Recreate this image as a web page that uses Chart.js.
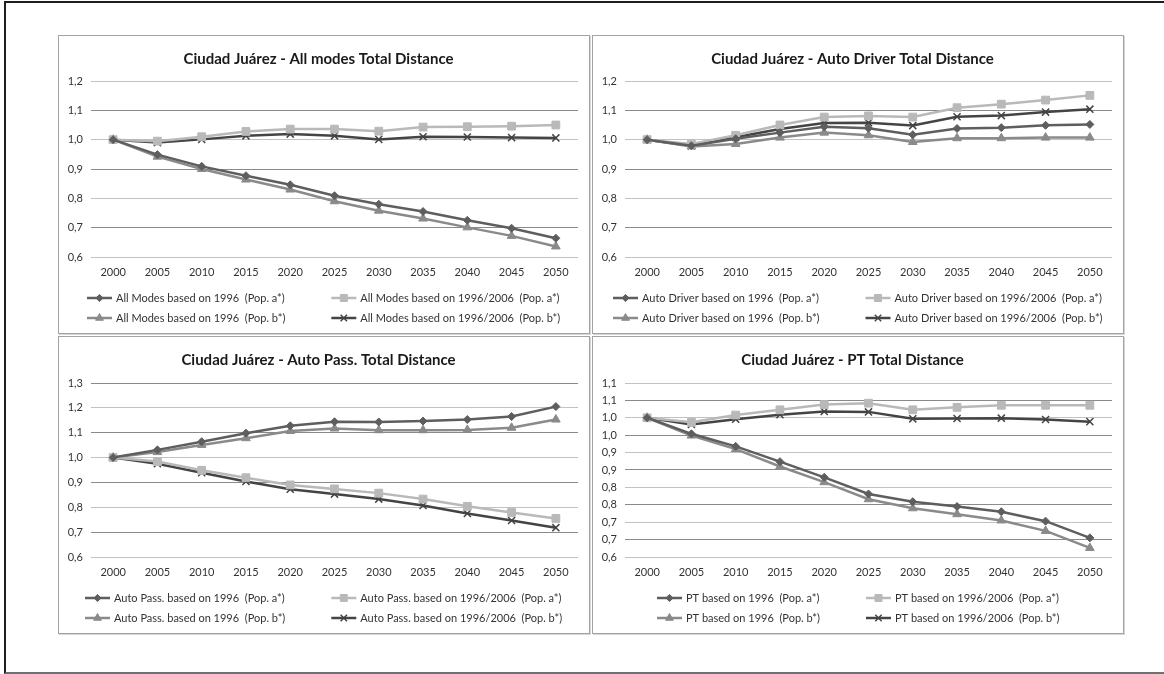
<!DOCTYPE html>
<html>
<head>
<meta charset="utf-8">
<script src="https://cdn.jsdelivr.net/npm/chart.js@4.4.1/dist/chart.umd.min.js"></script>
<style>
html, body { margin: 0; padding: 0; background: #fff; width: 1164px; height: 674px; overflow: hidden; }
#frame { position: absolute; left: 4px; top: 1px; width: 1200px; height: 669px;
  border-left: 2px solid #1e1e1e; border-top: 2px solid #1e1e1e; border-bottom: 2px solid #707070; }
.panel { position: absolute; border: 1px solid #a3a3a3; box-shadow: 1px 1px 0 #d6d6d6; background: #fff; }
.panel canvas { position: absolute; left: 0; top: 0; }
</style>
</head>
<body>
<div id="frame"></div>
<div class="panel" style="left:58px;top:35px;width:530px;height:297px"><canvas id="c1" width="530" height="297"></canvas></div>
<div class="panel" style="left:592px;top:35px;width:530px;height:297px"><canvas id="c2" width="530" height="297"></canvas></div>
<div class="panel" style="left:58px;top:336px;width:530px;height:296px"><canvas id="c3" width="530" height="296"></canvas></div>
<div class="panel" style="left:592px;top:336px;width:530px;height:296px"><canvas id="c4" width="530" height="296"></canvas></div>

<script>
// Données
const years = ['2000', '2005', '2010', '2015', '2020', '2025', '2030', '2035', '2040', '2045', '2050'];

const allA96   = [1.000, 0.949, 0.909, 0.877, 0.846, 0.809, 0.780, 0.755, 0.725, 0.698, 0.664];
const allA9606 = [1.000, 0.995, 1.010, 1.028, 1.036, 1.036, 1.029, 1.043, 1.044, 1.046, 1.050];
const allB96   = [1.000, 0.942, 0.900, 0.864, 0.830, 0.790, 0.758, 0.731, 0.701, 0.672, 0.636];
const allB9606 = [1.000, 0.990, 1.001, 1.013, 1.019, 1.013, 1.001, 1.010, 1.009, 1.007, 1.006];

const drvA96   = [1.000, 0.979, 1.003, 1.024, 1.044, 1.039, 1.017, 1.038, 1.041, 1.049, 1.052];
const drvA9606 = [1.000, 0.985, 1.015, 1.050, 1.077, 1.081, 1.077, 1.109, 1.121, 1.135, 1.151];
const drvB96   = [1.000, 0.977, 0.985, 1.007, 1.024, 1.015, 0.992, 1.005, 1.005, 1.007, 1.007];
const drvB9606 = [1.000, 0.979, 1.008, 1.036, 1.057, 1.058, 1.048, 1.078, 1.082, 1.094, 1.104];

const pasA96   = [1.000, 1.031, 1.064, 1.098, 1.128, 1.144, 1.143, 1.147, 1.153, 1.165, 1.205];
const pasA9606 = [1.000, 0.984, 0.949, 0.919, 0.890, 0.874, 0.857, 0.833, 0.804, 0.779, 0.755];
const pasB96   = [1.000, 1.022, 1.051, 1.078, 1.107, 1.117, 1.110, 1.110, 1.111, 1.120, 1.153];
const pasB9606 = [1.000, 0.975, 0.939, 0.904, 0.873, 0.853, 0.833, 0.807, 0.775, 0.747, 0.718];

const ptA96    = [1.000, 0.954, 0.918, 0.874, 0.829, 0.781, 0.759, 0.745, 0.730, 0.703, 0.655];
const ptA9606  = [1.000, 0.987, 1.008, 1.023, 1.038, 1.042, 1.023, 1.030, 1.036, 1.036, 1.036];
const ptB96    = [1.000, 0.949, 0.910, 0.860, 0.815, 0.766, 0.740, 0.723, 0.705, 0.675, 0.626];
const ptB9606  = [1.000, 0.981, 0.996, 1.009, 1.018, 1.017, 0.997, 0.998, 0.999, 0.995, 0.989];

// Étiquettes de l'axe Y (du bas vers le haut)
const ticksTo12 = ['0,6', '0,7', '0,8', '0,9', '1,0', '1,1', '1,2'];
const ticksTo13 = ['0,6', '0,7', '0,8', '0,9', '1,0', '1,1', '1,2', '1,3'];
const ticksPT   = ['0,6', '0,7', '0,7', '0,8', '0,8', '0,9', '0,9', '1,0', '1,0', '1,1', '1,1'];

Chart.defaults.font.family = 'Lato, "Open Sans", sans-serif';
Chart.defaults.animation = false;

// Styles des 4 séries
const seriesStyles = [
    { color: '#5e5e5e', point: 'rectRot', radius: 4,   pbw: 1 },   // 1996 (Pop. a*)
    { color: '#b9b9b9', point: 'rect',    radius: 5.5, pbw: 1 },   // 1996/2006 (Pop. a*)
    { color: '#8a8a8a', point: 'triangle',radius: 5,   pbw: 1 },   // 1996 (Pop. b*)
    { color: '#444444', point: 'crossRot',radius: 5,   pbw: 1.5 }  // 1996/2006 (Pop. b*)
];

// Légende en 2 colonnes dessinée sous le graphique
const legendGrid = {
    id: 'legendGrid',
    afterDraw(chart) {
        const ctx = chart.ctx;
        const ds = chart.data.datasets;
        ctx.save();
        ctx.font = '11px Lato, "Open Sans", sans-serif';
        const symW = 25, gap = 4, colGap = 46;
        const w1 = Math.max(ctx.measureText(ds[0].label).width, ctx.measureText(ds[2].label).width);
        const w2 = Math.max(ctx.measureText(ds[1].label).width, ctx.measureText(ds[3].label).width);
        const total = symW + gap + w1 + colGap + symW + gap + w2;
        const x0 = Math.round((chart.width - total) / 2);
        const xs = [x0, x0 + symW + gap + w1 + colGap];
        const ys = [chart.chartArea.bottom + 41, chart.chartArea.bottom + 61];
        ds.forEach((d, i) => {
            const x = xs[i % 2], y = ys[Math.floor(i / 2)];
            ctx.strokeStyle = d.borderColor;
            ctx.lineWidth = d.borderWidth;
            ctx.beginPath();
            ctx.moveTo(x, y);
            ctx.lineTo(x + symW, y);
            ctx.stroke();
            ctx.fillStyle = d.borderColor;
            ctx.lineWidth = d.pointBorderWidth;
            Chart.helpers.drawPoint(ctx, {
                pointStyle: d.pointStyle, radius: d.pointRadius * 0.9,
                borderWidth: d.pointBorderWidth, rotation: 0
            }, x + symW / 2, y);
            ctx.fillStyle = '#333';
            ctx.textBaseline = 'middle';
            ctx.textAlign = 'left';
            ctx.fillText(d.label, x + symW + gap, y);
        });
        ctx.restore();
    }
};

function makeChart(id, title, prefix, series, yMin, yMax, step, tickLabels, titleBottom) {
    const suffixes = ['based on 1996  (Pop. a*)', 'based on 1996/2006  (Pop. a*)',
                      'based on 1996  (Pop. b*)', 'based on 1996/2006  (Pop. b*)'];
    const datasets = series.map((values, i) => {
        const s = seriesStyles[i];
        return {
            label: prefix + ' ' + suffixes[i],
            data: values,
            borderColor: s.color,
            backgroundColor: s.color,
            borderWidth: 2.5,
            pointStyle: s.point,
            pointRadius: s.radius,
            pointBackgroundColor: s.color,
            pointBorderColor: s.color,
            pointBorderWidth: s.pbw,
            tension: 0
        };
    });
    new Chart(document.getElementById(id), {
        type: 'line',
        data: { labels: years, datasets: datasets },
        options: {
            responsive: false,
            layout: { padding: { left: 0, right: 11, top: 0, bottom: 50 } },
            plugins: {
                legend: { display: false },
                tooltip: { enabled: false },
                title: {
                    display: true,
                    text: title,
                    color: '#1a1a1a',
                    font: { size: 15, weight: 'bold' },
                    padding: { top: 14, bottom: titleBottom }
                }
            },
            scales: {
                x: {
                    offset: true,
                    grid: { display: false, drawTicks: false },
                    border: { display: false },
                    ticks: { color: '#333', font: { size: 11 }, padding: 9, maxRotation: 0 },
                    afterFit: s => { s.height = 26; }
                },
                y: {
                    min: yMin,
                    max: yMax,
                    border: { display: false },
                    grid: {
                        drawTicks: false,
                        color: c => (c.index % 2 ? '#8a8a8a' : '#c2c2c2')
                    },
                    ticks: {
                        stepSize: step,
                        autoSkip: false,
                        color: '#333',
                        font: { size: 11 },
                        padding: 8,
                        callback: (v, i) => tickLabels[i]
                    },
                    afterFit: s => { s.width = 32; }
                }
            }
        },
        plugins: [legendGrid]
    });
}

makeChart('c1', 'Ciudad Juárez - All modes Total Distance', 'All Modes',
    [allA96, allA9606, allB96, allB9606], 0.6, 1.2, 0.1, ticksTo12, 13);
makeChart('c2', 'Ciudad Juárez - Auto Driver Total Distance', 'Auto Driver',
    [drvA96, drvA9606, drvB96, drvB9606], 0.6, 1.2, 0.1, ticksTo12, 13);
makeChart('c3', 'Ciudad Juárez - Auto Pass. Total Distance', 'Auto Pass.',
    [pasA96, pasA9606, pasB96, pasB9606], 0.6, 1.3, 0.1, ticksTo13, 14);
makeChart('c4', 'Ciudad Juárez - PT Total Distance', 'PT',
    [ptA96, ptA9606, ptB96, ptB9606], 0.6, 1.1, 0.05, ticksPT, 14);
</script>
</body>
</html>
